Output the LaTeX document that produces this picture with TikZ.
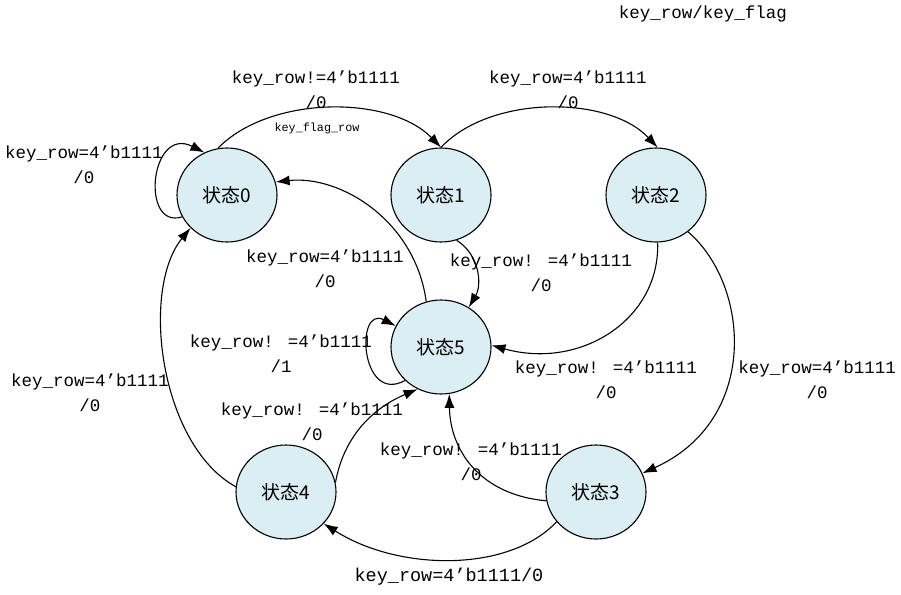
\documentclass[tikz,border=0pt]{standalone}
\usepackage{fontspec}
\newfontfamily\cjk{Noto Sans CJK SC}
\newfontfamily\labelfont{Liberation Mono}
\usetikzlibrary{arrows.meta, shapes.geometric}
\definecolor{statefill}{RGB}{218,238,243}
\tikzset{
  stnode/.style={ellipse, draw, line width=1.1pt, fill=statefill, minimum width=100pt, minimum height=94pt, inner sep=0pt, font=\cjk\fontsize{19}{19}\selectfont},
  lab/.style={align=center, inner sep=0pt, font=\labelfont\fontsize{17.5}{25}\selectfont},
  trans/.style={->, line width=1.1pt},
}
\begin{document}
\begin{tikzpicture}[x=1pt, y=-1pt, >={Latex[length=14pt,width=10pt]}]
\useasboundingbox (0,0) rectangle (901,594);
\node[stnode] (s0) at (227,195) {状态0};
\node[stnode] (s1) at (441,195) {状态1};
\node[stnode] (s2) at (656,195) {状态2};
\node[stnode] (s5) at (441,347) {状态5};
\node[stnode] (s4) at (286,492) {状态4};
\node[stnode] (s3) at (596,492) {状态3};

\draw[trans] (s0.101) .. controls (270,95) and (390,95) .. (s1.90);
\draw[trans] (s1.90) .. controls (490,95) and (608,95) .. (s2.88);
\draw[trans] (s0.206) .. controls (140,230) and (150,125) .. (s0.118);
\draw[trans] (s5.108) .. controls (415,220) and (340,175) .. (s0.15);
\draw[trans] (s1.289) .. controls (480,255) and (482,285) .. (s5.55);
\draw[trans] (s2.272) .. controls (660,320) and (580,370) .. (s5.2);
\draw[trans] (s2.311) .. controls (750,285) and (760,420) .. (s3.22);
\draw[trans] (s5.223) .. controls (360,405) and (355,305) .. (s5.155);
\draw[trans] (s4.11) .. controls (345,430) and (380,405) .. (s5.241);
\draw[trans] (s3.190) .. controls (480,495) and (450,450) .. (s5.280);
\draw[trans] (s3.217) .. controls (510,572) and (400,572) .. (s4.320);
\draw[trans] (s4.174) .. controls (160,445) and (140,290) .. (s0.222);

\node[lab] (title) at (703,14) {key\_row/key\_flag};
\node[lab] (l01) at (316,89.5) {key\_row!=4’b1111\\/0};
\node[lab, font=\labelfont\fontsize{11.8}{12}\selectfont] (flag) at (317,128) {key\_flag\_row};
\node[lab] (l12) at (568,90) {key\_row=4’b1111\\/0};
\node[lab] (l00) at (84,164.5) {key\_row=4’b1111\\/0};
\node[lab] (l50) at (325,268.5) {key\_row=4’b1111\\/0};
\node[lab] (l15) at (541,272.5) {key\_row! =4’b1111\\/0};
\node[lab] (l55) at (281,354) {key\_row! =4’b1111\\/1};
\node[lab] (l40) at (90,392.5) {key\_row=4’b1111\\/0};
\node[lab] (l45) at (312,421.5) {key\_row! =4’b1111\\/0};
\node[lab] (l25) at (606,379.5) {key\_row! =4’b1111\\/0};
\node[lab] (l23) at (817,379.5) {key\_row=4’b1111\\/0};
\node[lab] (l35) at (471,461.5) {key\_row! =4’b1111\\/0};
\node[lab, font=\labelfont\fontsize{18.5}{25}\selectfont] (l34) at (449,577) {key\_row=4’b1111/0};
\end{tikzpicture}
\end{document}
